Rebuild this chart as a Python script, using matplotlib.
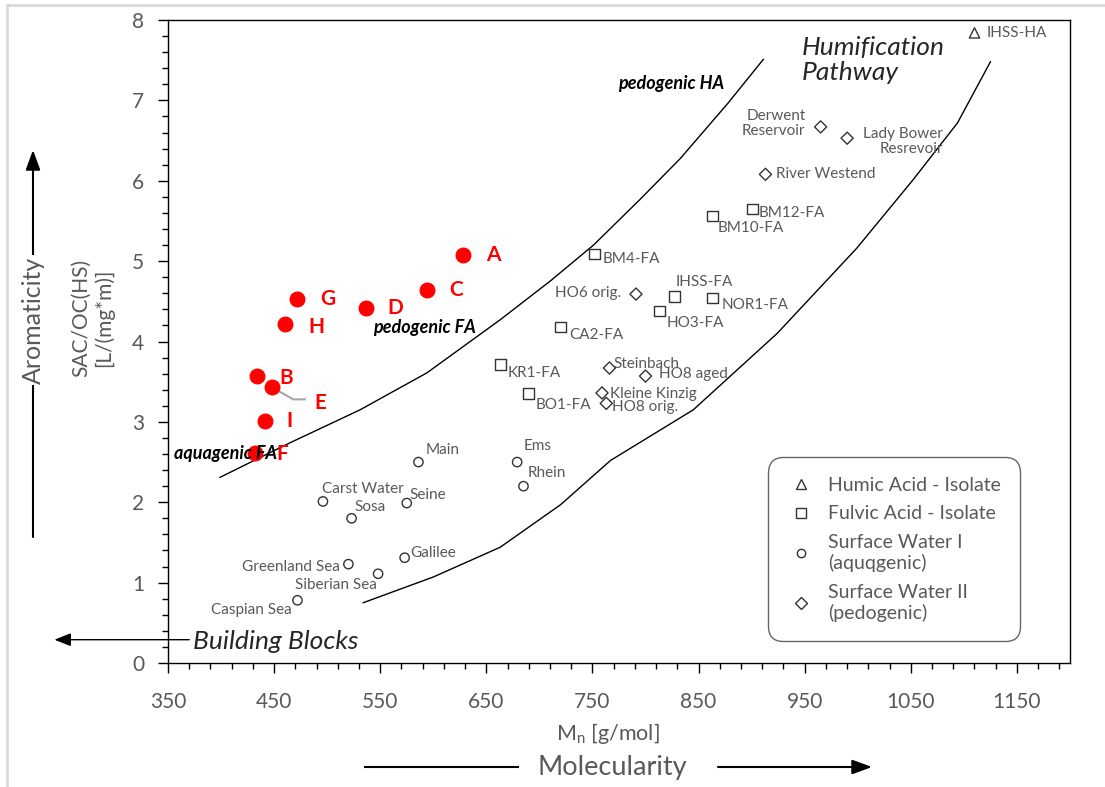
import matplotlib.pyplot as plt
from matplotlib.lines import Line2D
from matplotlib.patches import FancyArrowPatch
import matplotlib.ticker as mticker

plt.rcParams['font.family'] = ['Lato', 'DejaVu Sans']
plt.rcParams['mathtext.fontset'] = 'custom'
plt.rcParams['mathtext.rm'] = 'Lato'
plt.rcParams['mathtext.it'] = 'Lato:italic'

GRAY = '#595959'
DARK = '#262626'

# own samples (red)
red_names = ['A', 'C', 'D', 'G', 'H', 'B', 'E', 'I', 'F']
red_mn = [628, 594, 537, 472, 460, 434, 448, 441, 432]
red_sac = [5.07, 4.64, 4.42, 4.53, 4.22, 3.57, 3.43, 3.01, 2.61]

# humic acid isolate
ha_names = ['IHSS-HA']
ha_mn = [1110]
ha_sac = [7.84]

# fulvic acid isolates
fa_names = ['BM4-FA', 'BM10-FA', 'BM12-FA', 'IHSS-FA', 'NOR1-FA', 'HO3-FA',
            'CA2-FA', 'KR1-FA', 'BO1-FA']
fa_mn = [752, 863, 901, 827, 863, 813, 720, 663, 690]
fa_sac = [5.09, 5.56, 5.65, 4.56, 4.54, 4.38, 4.18, 3.71, 3.35]

# surface water I (aquagenic)
sw1_names = ['Main', 'Ems', 'Rhein', 'Carst Water', 'Seine', 'Sosa', 'Galilee',
             'Greenland Sea', 'Siberian Sea', 'Caspian Sea']
sw1_mn = [586, 679, 685, 496, 575, 523, 573, 520, 548, 472]
sw1_sac = [2.50, 2.50, 2.20, 2.01, 1.99, 1.80, 1.31, 1.23, 1.11, 0.78]

# surface water II (pedogenic)
sw2_names = ['Derwent\nReservoir', 'Lady Bower\nResrevoir', 'River Westend',
             'HO6 orig.', 'Steinbach', 'HO8 aged', 'Kleine Kinzig', 'HO8 orig.']
sw2_mn = [965, 990, 913, 791, 766, 800, 759, 763]
sw2_sac = [6.67, 6.53, 6.08, 4.59, 3.67, 3.57, 3.36, 3.23]

# boundary curves of the humification pathway
ped_mn = [399, 465, 531, 594, 663, 710, 751, 795, 833, 878, 911]
ped_sac = [2.31, 2.74, 3.15, 3.61, 4.27, 4.75, 5.20, 5.77, 6.28, 6.97, 7.51]
aqu_mn = [534, 600, 663, 720, 767, 845, 924, 999, 1052, 1094, 1125]
aqu_sac = [0.75, 1.07, 1.44, 1.97, 2.52, 3.15, 4.10, 5.16, 6.01, 6.72, 7.48]

# label offsets in pixels (dx, dy, ha)
red_off = {'A': (23, 0), 'C': (22, 0), 'D': (21, 0), 'G': (23, 0), 'H': (24, -3),
           'B': (22, -2), 'E': (42, -16), 'I': (22, 0), 'F': (21, -1)}
fa_off = {'BM4-FA': (8, -5, 'left'), 'BM10-FA': (5, -12, 'left'),
          'BM12-FA': (6, -4, 'left'), 'IHSS-FA': (1, 14, 'left'),
          'NOR1-FA': (9, -7, 'left'), 'HO3-FA': (7, -12, 'left'),
          'CA2-FA': (9, -8, 'left'), 'KR1-FA': (7, -8, 'left'),
          'BO1-FA': (7, -11, 'left')}
sw1_off = {'Main': (7, 12, 'left'), 'Ems': (6, 16, 'left'), 'Rhein': (4, 13, 'left'),
           'Carst Water': (-1, 12, 'left'), 'Seine': (3, 8, 'left'),
           'Sosa': (3, 11, 'left'), 'Galilee': (6, 5, 'left'),
           'Greenland Sea': (-9, -3, 'right'), 'Siberian Sea': (-1, -11, 'right'),
           'Caspian Sea': (-6, -10, 'right')}
sw2_off = {'Derwent\nReservoir': (-15, 3, 'right'), 'Lady Bower\nResrevoir': (16, -3, 'left'),
           'River Westend': (11, 0, 'left'), 'HO6 orig.': (-15, 1, 'right'),
           'Steinbach': (4, 4, 'left'), 'HO8 aged': (13, 2, 'left'),
           'Kleine Kinzig': (8, -1, 'left'), 'HO8 orig.': (6, -4, 'left')}

fig = plt.figure(figsize=(11.05, 7.87), dpi=100)
ax = fig.add_axes([168 / 1105, 124 / 787, 902 / 1105, 643 / 787])

ax.plot(ped_mn, ped_sac, color='black', lw=1.0)
ax.plot(aqu_mn, aqu_sac, color='black', lw=1.0)

mk = dict(facecolors='none', edgecolors='#333333', linewidths=1.0, zorder=3)
ax.scatter(ha_mn, ha_sac, marker='^', s=55, **mk)
ax.scatter(fa_mn, fa_sac, marker='s', s=60, **mk)
ax.scatter(sw1_mn, sw1_sac, marker='o', s=45, **mk)
ax.scatter(sw2_mn, sw2_sac, marker='D', s=38, **mk)
ax.scatter(red_mn, red_sac, marker='o', s=110, color='red', zorder=4)


def label(names, xs, ys, offs):
    for n, x, y in zip(names, xs, ys):
        dx, dy, ha = offs[n]
        ax.annotate(n, (x, y), xytext=(dx, dy), textcoords='offset pixels',
                    ha=ha, va='center', fontsize=11, color=GRAY,
                    linespacing=1.1, multialignment='right' if '\n' in n else None)


label(ha_names, ha_mn, ha_sac, {'IHSS-HA': (12, 0, 'left')})
label(fa_names, fa_mn, fa_sac, fa_off)
label(sw1_names, sw1_mn, sw1_sac, sw1_off)
label(sw2_names, sw2_mn, sw2_sac, sw2_off)

for n, x, y in zip(red_names, red_mn, red_sac):
    dx, dy = red_off[n]
    ax.annotate(n, (x, y), xytext=(dx, dy), textcoords='offset pixels',
                ha='left', va='center', fontsize=15, fontweight='bold',
                color='red', zorder=5)

# leader line for E
ei = red_names.index('E')
ax.plot([red_mn[ei], red_mn[ei] + 20, red_mn[ei] + 31],
        [red_sac[ei], red_sac[ei] - 0.15, red_sac[ei] - 0.15],
        color='#a6a6a6', lw=1.5, zorder=3)

# region annotations
ax.text(774, 7.21, 'pedogenic HA', fontsize=13, fontweight='bold',
        style='italic', color='black', va='center')
ax.text(543, 4.17, 'pedogenic FA', fontsize=13, fontweight='bold',
        style='italic', color='black', va='center')
ax.text(356, 2.61, 'aquagenic FA', fontsize=13, fontweight='bold',
        style='italic', color='black', va='center', zorder=6)
ax.text(947, 7.80, 'Humification\nPathway', fontsize=19, style='italic',
        color=DARK, va='top', linespacing=1.1)
ax.text(374, 0.27, 'Building Blocks', fontsize=19, style='italic',
        color=DARK, va='center')
ax.annotate('', xy=(243, 0.29), xytext=(370, 0.29), annotation_clip=False,
            arrowprops=dict(arrowstyle='-|>,head_length=0.5,head_width=0.2',
                            mutation_scale=20, color='black', lw=1.0,
                            shrinkA=0, shrinkB=0))

ax.set_xlim(350, 1200)
ax.set_ylim(0, 8)
ax.xaxis.set_major_locator(mticker.FixedLocator(list(range(350, 1151, 100))))
ax.xaxis.set_minor_locator(mticker.FixedLocator(list(range(370, 1200, 20))))
ax.yaxis.set_major_locator(mticker.MultipleLocator(1))
ax.yaxis.set_minor_locator(mticker.MultipleLocator(0.2))
ax.tick_params(which='major', direction='out', length=7, width=1,
               labelsize=15, labelcolor=GRAY, color='black')
ax.tick_params(which='minor', direction='out', length=4, width=1, color='black')
ax.tick_params(axis='x', pad=14)
ax.tick_params(axis='y', pad=10)
for s in ax.spines.values():
    s.set_linewidth(1.0)
    s.set_color('black')

# legend
handles = [
    Line2D([], [], marker='^', ls='none', mfc='none', mec='#333333', ms=7),
    Line2D([], [], marker='s', ls='none', mfc='none', mec='#333333', ms=7),
    Line2D([], [], marker='o', ls='none', mfc='none', mec='#333333', ms=6),
    Line2D([], [], marker='D', ls='none', mfc='none', mec='#333333', ms=6),
]
labels = ['Humic Acid - Isolate', 'Fulvic Acid - Isolate',
          'Surface Water I\n(aquqgenic)', 'Surface Water II\n(pedogenic)']
leg = ax.legend(handles, labels, loc='upper left', bbox_to_anchor=(0.665, 0.32),
                fontsize=14, labelcolor=GRAY, frameon=True, fancybox=True,
                edgecolor='#404040', borderpad=1.0, labelspacing=0.6,
                handletextpad=0.7, borderaxespad=0, handlelength=1.4)
leg.get_frame().set_linewidth(1.0)
leg.get_frame().set_boxstyle('round,pad=0,rounding_size=0.8')

# axis titles
fig.text(608 / 1105, 1 - 733 / 787, r'M$_\mathrm{n}$ [g/mol]', fontsize=15.5,
         color=GRAY, ha='center', va='center')
fig.text(612 / 1105, 1 - 767 / 787, 'Molecularity', fontsize=19.5,
         color=GRAY, ha='center', va='center')
fig.add_artist(Line2D([365 / 1105, 518 / 1105], [1 - 767 / 787] * 2,
                      color='black', lw=1.5))
fig.add_artist(FancyArrowPatch(
    (718 / 1105, 1 - 767 / 787), (872 / 1105, 1 - 767 / 787),
    transform=fig.transFigure, arrowstyle='-|>,head_length=0.6,head_width=0.22',
    mutation_scale=20, color='black', lw=1.5, shrinkA=0, shrinkB=0))

fig.text(93 / 1105, 1 - 318 / 787, 'SAC/OC(HS)\n[L/(mg*m)]', fontsize=15,
         color=GRAY, ha='center', va='center', rotation=90, linespacing=1.15)
fig.add_artist(FancyArrowPatch(
    (33 / 1105, 1 - 537 / 787), (33 / 1105, 1 - 150 / 787),
    transform=fig.transFigure, arrowstyle='-|>,head_length=0.6,head_width=0.22',
    mutation_scale=20, color='black', lw=1.5, shrinkA=0, shrinkB=0))
fig.text(33 / 1105, 1 - 320 / 787, 'Aromaticity', fontsize=18, color=GRAY,
         ha='center', va='center', rotation=90,
         bbox=dict(facecolor='white', edgecolor='none', pad=1))

# outer chart-area border
fig.add_artist(Line2D([7 / 1105, 1], [1 - 5 / 787] * 2, color='#d9d9d9', lw=2))
fig.add_artist(Line2D([7 / 1105] * 2, [0, 1 - 5 / 787], color='#d9d9d9', lw=2))

fig.savefig('out.png', dpi=100)
